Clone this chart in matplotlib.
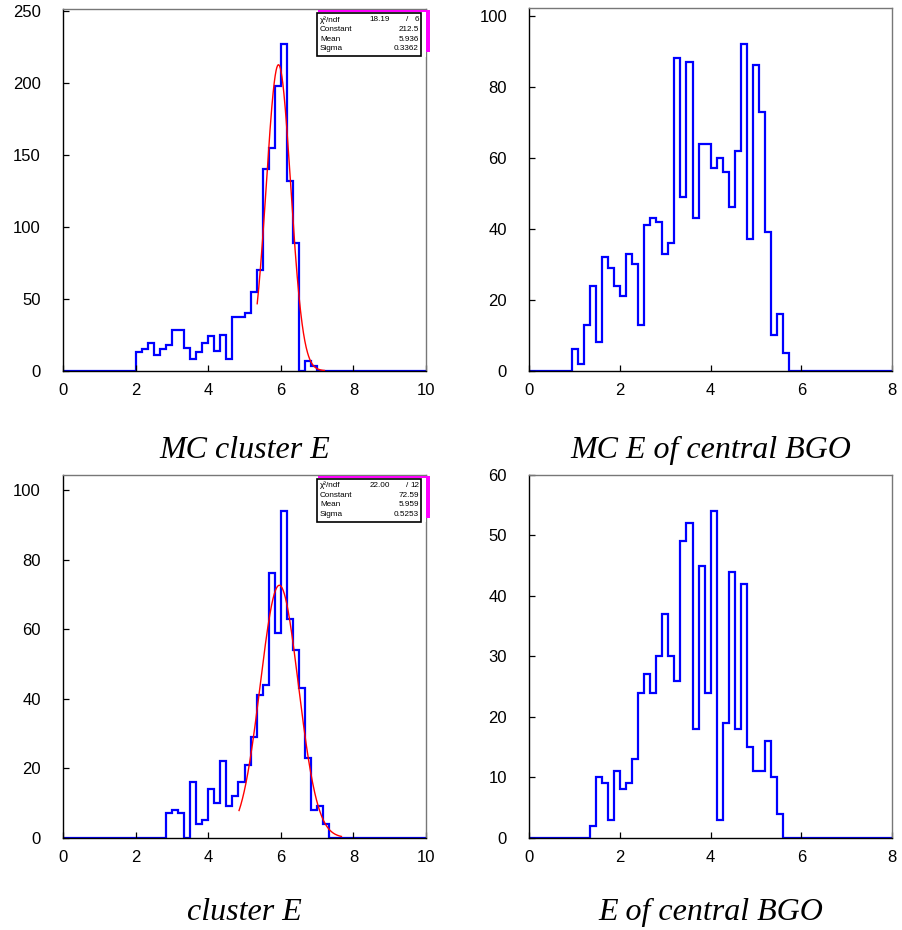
import numpy as np
import matplotlib
matplotlib.use('Agg')
import matplotlib.pyplot as plt
from matplotlib.patches import Rectangle

# --- data (60 bins each) ---
# MC cluster E, range 0-10, first non-empty bin index 12 (x=2.0)
mc_cluster_start = 12
mc_cluster_counts = [13, 15, 19, 11, 15, 18, 28, 28, 16, 8, 13, 19, 24, 14, 25, 8,
                     37, 37, 40, 55, 70, 140, 155, 198, 227, 132, 89, 0, 7, 3]
mc_cluster_fit = {'chi2': '18.19', 'ndf': '6', 'constant': '212.5', 'mean': '5.936', 'sigma': '0.3362'}
mc_cluster_fit_range = (5.35, 7.2)

# MC E of central BGO, range 0-8, first non-empty bin index 7
mc_bgo_start = 7
mc_bgo_counts = [6, 2, 13, 24, 8, 32, 29, 24, 21, 33, 30, 13, 41, 43, 42, 33, 36, 88,
                 49, 87, 43, 64, 64, 57, 60, 56, 46, 62, 92, 37, 86, 73, 39, 10, 16, 5]

# cluster E (data), range 0-10, first non-empty bin index 17
cluster_start = 17
cluster_counts = [7, 8, 7, 0, 16, 4, 5, 14, 10, 22, 9, 12, 16, 21, 29, 41, 44, 76,
                  59, 94, 63, 54, 43, 23, 8, 9, 4]
cluster_fit = {'chi2': '22.00', 'ndf': '12', 'constant': '72.59', 'mean': '5.959', 'sigma': '0.5253'}
cluster_fit_range = (4.85, 7.67)

# E of central BGO (data), range 0-8, first non-empty bin index 10
bgo_start = 10
bgo_counts = [2, 10, 9, 3, 11, 8, 9, 13, 24, 27, 24, 30, 37, 30, 26, 49, 52, 18, 45,
              24, 54, 3, 19, 44, 18, 42, 15, 11, 11, 16, 10, 4]

n_bins = 60
W, H = 903, 930

plt.rcParams['font.family'] = ['Liberation Sans', 'DejaVu Sans']
fig = plt.figure(figsize=(W / 100, H / 100), dpi=100)


def px_axes(left, top, right, bottom):
    return fig.add_axes([left / W, 1 - bottom / H, (right - left) / W, (bottom - top) / H])


def full_counts(start, counts):
    c = np.zeros(n_bins)
    c[start:start + len(counts)] = counts
    return c


def style(ax, xmax, ymax, yticks):
    ax.set_xlim(0, xmax)
    ax.set_ylim(0, ymax)
    ax.set_xticks(np.arange(0, xmax + 1, 2))
    ax.set_yticks(yticks)
    ax.tick_params(axis='both', direction='in', length=4, width=0.9, labelsize=12,
                   colors='black', top=False, right=False)
    ax.tick_params(axis='y', pad=16)
    ax.tick_params(axis='x', pad=9)
    for s in ['left', 'bottom']:
        ax.spines[s].set_color('black')
        ax.spines[s].set_linewidth(1.0)
    for s in ['top', 'right']:
        ax.spines[s].set_color('#777777')
        ax.spines[s].set_linewidth(1.0)


def stats_box(ax, fit):
    # box drawn in pixel offsets from the axes' top-right corner
    bb = ax.get_position()
    rx, ty = bb.x1 * W, (1 - bb.y1) * H

    def rect(x0, y0, x1, y1, **kw):
        r = Rectangle((x0 / W, 1 - y1 / H), (x1 - x0) / W, (y1 - y0) / H,
                      transform=fig.transFigure, **kw)
        fig.add_artist(r)

    rect(rx - 108, ty + 0.5, rx + 3.5, ty + 43, facecolor='#ff00ff', edgecolor='none', zorder=5)
    rect(rx - 110.5, ty + 3.2, rx + 0.2, ty + 47.5, facecolor='white', edgecolor='none', zorder=6)
    rect(rx - 109.5, ty + 4, rx - 4.8, ty + 46.5, facecolor='none', edgecolor='black',
         linewidth=1.2, zorder=7)

    rows = [('χ²/ndf', None), ('Constant', fit['constant']),
            ('Mean', fit['mean']), ('Sigma', fit['sigma'])]
    fs = 5.9
    for i, (lab, val) in enumerate(rows):
        y = 1 - (ty + 10.5 + i * 9.7) / H
        fig.text((rx - 106) / W, y, lab, fontsize=fs, va='center', ha='left', zorder=8)
        if val is None:
            fig.text((rx - 36) / W, y, fit['chi2'], fontsize=fs, va='center', ha='right', zorder=8)
            fig.text((rx - 19) / W, y, '/', fontsize=fs, va='center', ha='center', zorder=8)
            fig.text((rx - 7) / W, y, fit['ndf'], fontsize=fs, va='center', ha='right', zorder=8)
        else:
            fig.text((rx - 7) / W, y, val, fontsize=fs, va='center', ha='right', zorder=8)


def draw_fit(ax, fit, xr):
    c, m, s = float(fit['constant']), float(fit['mean']), float(fit['sigma'])
    x = np.linspace(xr[0], xr[1], 300)
    y = c * np.exp(-0.5 * ((x - m) / s) ** 2)
    ax.plot(x, y, color='red', linewidth=1.0, zorder=4)


hist_kw = dict(color='#0000ff', linewidth=1.6, baseline=0)

# top left
ax1 = px_axes(63, 9.3, 426, 370.7)
ax1.stairs(full_counts(mc_cluster_start, mc_cluster_counts), np.linspace(0, 10, n_bins + 1), **hist_kw)
draw_fit(ax1, mc_cluster_fit, mc_cluster_fit_range)
style(ax1, 10, 251, np.arange(0, 251, 50))

# top right
ax2 = px_axes(529.3, 8, 892, 370.7)
ax2.stairs(full_counts(mc_bgo_start, mc_bgo_counts), np.linspace(0, 8, n_bins + 1), **hist_kw)
style(ax2, 8, 102.2, np.arange(0, 101, 20))

# bottom left
ax3 = px_axes(63, 475, 426, 837.7)
ax3.stairs(full_counts(cluster_start, cluster_counts), np.linspace(0, 10, n_bins + 1), **hist_kw)
draw_fit(ax3, cluster_fit, cluster_fit_range)
style(ax3, 10, 104.3, np.arange(0, 101, 20))

# bottom right
ax4 = px_axes(529.3, 475, 892, 837.7)
ax4.stairs(full_counts(bgo_start, bgo_counts), np.linspace(0, 8, n_bins + 1), **hist_kw)
style(ax4, 8, 60, np.arange(0, 61, 10))

stats_box(ax1, mc_cluster_fit)
stats_box(ax3, cluster_fit)

title_kw = dict(fontsize=23, style='italic', family='Liberation Serif', ha='center', va='baseline')
fig.text(244.5 / W, 1 - 458 / H, 'MC cluster E', **title_kw)
fig.text(710.5 / W, 1 - 458 / H, 'MC E of central BGO', **title_kw)
fig.text(244.5 / W, 1 - 920 / H, 'cluster E', **title_kw)
fig.text(710.5 / W, 1 - 920 / H, 'E of central BGO', **title_kw)

fig.savefig('out.png', dpi=100)
